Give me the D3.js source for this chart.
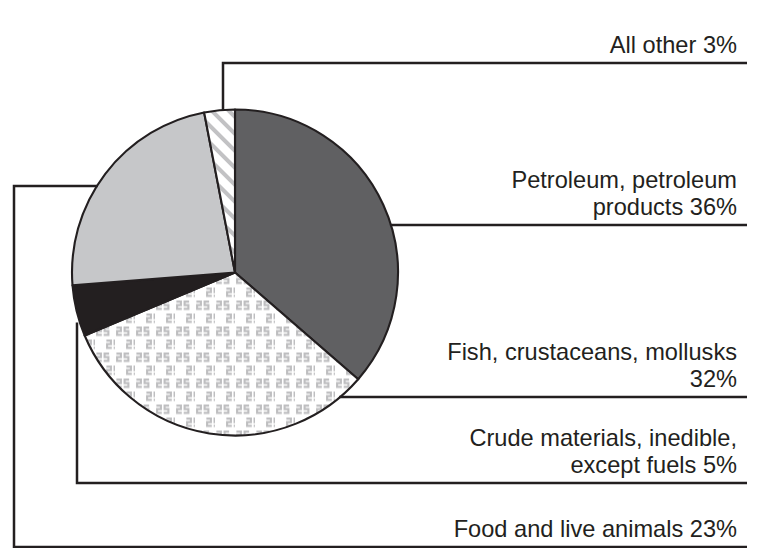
<!DOCTYPE html>
<html>
<head>
<meta charset="utf-8">
<script src="https://cdn.jsdelivr.net/npm/d3@7"></script>
<style>
  html, body { margin: 0; padding: 0; background: #fff; }
  svg { display: block; }
  text { font-family: "Liberation Sans", Arial, Helvetica, sans-serif; fill: #231f20; }
</style>
</head>
<body>
<svg id="chart" width="761" height="548"></svg>
<script>
// ---- data (clockwise from 12 o'clock) ----
const categories = ["Petroleum, petroleum products", "Fish, crustaceans, mollusks", "Crude materials, inedible, except fuels", "Food and live animals", "All other"];
const values = [36, 32, 5, 23, 3];
const labelLines = [
  ["Petroleum, petroleum", "products 36%"],
  ["Fish, crustaceans, mollusks", "32%"],
  ["Crude materials, inedible,", "except fuels 5%"],
  ["Food and live animals 23%"],
  ["All other 3%"]
];

// ---- layout ----
const W = 761, H = 548;
const cx = 235, cy = 272.5, R = 163;
const lineRight = 747, textRight = 737;
const fontSize = 23.6, lineGap = 27.5;
const rowY = [225, 397, 483, 547, 63];
const leaderKind = ["right", "right", "down", "elbow", "up"];
const leaderX = [null, null, 77, 14, 223];
const elbowY = [null, null, null, 186, null];

const ink = "#231f20";
const svg = d3.select("#chart");
const defs = svg.append("defs");

// fish pattern: light gray mirrored-S / S glyph pairs
const fp = defs.append("pattern").attr("id", "fishPat")
  .attr("patternUnits", "userSpaceOnUse").attr("width", 20).attr("height", 26);
fp.append("rect").attr("width", 20).attr("height", 26).attr("fill", "#fff");
const sPath = "M5.6,1.1 L1.1,1.1 L1.1,4.6 L4.9,4.6 L4.9,8.4 L0.2,8.4";
const zPath = "M0.4,1.1 L4.9,1.1 L4.9,4.6 L1.1,4.6 L1.1,8.4 L5.8,8.4";
[[1, 2], [11, 15]].forEach(([ox, oy]) => {
  fp.append("path").attr("d", zPath).attr("transform", `translate(${ox},${oy})`)
    .attr("fill", "none").attr("stroke", "#bebec0").attr("stroke-width", 2.1);
  fp.append("path").attr("d", sPath).attr("transform", `translate(${ox + 7.5},${oy})`)
    .attr("fill", "none").attr("stroke", "#bebec0").attr("stroke-width", 2.1);
});

// all other: diagonal stripes "\"
const hp = defs.append("pattern").attr("id", "hatchPat")
  .attr("patternUnits", "userSpaceOnUse").attr("width", 12).attr("height", 12)
  .attr("patternTransform", "rotate(-45)");
hp.append("rect").attr("width", 12).attr("height", 12).attr("fill", "#fff");
hp.append("rect").attr("x", 0).attr("width", 4).attr("height", 12).attr("fill", "#c2c2c4");

const fills = ["#606062", "url(#fishPat)", "#231f20", "#c6c7c9", "url(#hatchPat)"];

const pie = d3.pie().sort(null).value(d => d)(values);
const arc = d3.arc().innerRadius(0).outerRadius(R);

const g = svg.append("g").attr("transform", `translate(${cx},${cy})`);
g.selectAll("path.slice").data(pie).join("path")
  .attr("class", "slice")
  .attr("d", arc)
  .attr("fill", (d, i) => fills[i])
  .attr("stroke", ink)
  .attr("stroke-width", 2.1)
  .attr("stroke-linejoin", "round");

// ---- leader lines ----
function circleX(y, side) { const dy = y - cy; return cx + side * Math.sqrt(Math.max(0, R * R - dy * dy)); }
function circleY(x, side) { const dx = x - cx; return cy + side * Math.sqrt(Math.max(0, R * R - dx * dx)); }

const leaders = svg.append("g").attr("fill", "none").attr("stroke", ink).attr("stroke-width", 2.5);
categories.forEach((c, i) => {
  let pts;
  const y = rowY[i];
  if (leaderKind[i] === "right") {
    pts = [[circleX(y, 1) - 1, y], [lineRight, y]];
  } else if (leaderKind[i] === "up") {
    const x = leaderX[i];
    pts = [[x, circleY(x, -1) + 1], [x, y], [lineRight, y]];
  } else if (leaderKind[i] === "down") {
    const x = leaderX[i];
    pts = [[x, circleY(x, 1) + 10], [x, y], [lineRight, y]];
  } else {
    const x = leaderX[i], ey = elbowY[i];
    pts = [[circleX(ey, -1) + 1, ey], [x, ey], [x, y], [lineRight, y]];
  }
  leaders.append("path").attr("d", d3.line()(pts)).attr("stroke-linejoin", "miter");
});

// ---- labels ----
const labels = svg.append("g").attr("font-size", fontSize).attr("text-anchor", "end");
labelLines.forEach((lines, i) => {
  const n = lines.length;
  lines.forEach((t, k) => {
    labels.append("text")
      .attr("x", textRight)
      .attr("y", rowY[i] - 10 - (n - 1 - k) * lineGap)
      .text(t);
  });
});
</script>
</body>
</html>
